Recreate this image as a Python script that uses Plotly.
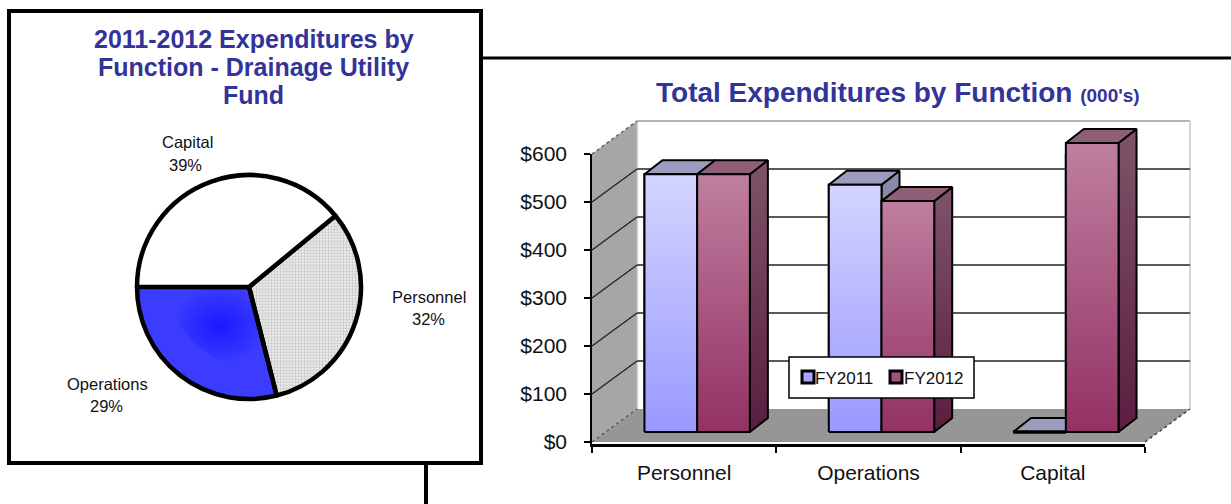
import numpy as np
import plotly.graph_objects as go

# ---- data ----
pie_labels = ["Personnel", "Operations", "Capital"]
pie_values = [32, 29, 39]
categories = ["Personnel", "Operations", "Capital"]
fy2011 = [537, 515, 0]
fy2012 = [537, 481, 602]
y_ticks = [0, 100, 200, 300, 400, 500, 600]
y_labels = ["$0", "$100", "$200", "$300", "$400", "$500", "$600"]
series_names = ["FY2011", "FY2012"]

# ---- page geometry (pixels) ----
W, H = 1231, 504
def fx(px): return px / W
def fy(px): return 1 - px / H

AX_L, AX_R, AX_T, AX_B = 592, 1145, 154, 444
ZERO_PX = 442
USD_PX = 0.48
CAT_PX = (AX_R - AX_L) / 3
px2x = lambda p: p / CAT_PX
px2v = lambda p: p / USD_PX

# scene axes: same scale as main axes, wider area for the 3-D box
SC_L, SC_R, SC_T, SC_B = 570, 1205, 100, 452
sc_xr = [-0.5 + px2x(SC_L - AX_L), -0.5 + px2x(SC_R - AX_L)]
sc_yr = [px2v(ZERO_PX - SC_B), px2v(ZERO_PX - SC_T)]

WALL_DX, WALL_DY = px2x(45), px2v(33)
BAR_DX, BAR_DV = px2x(18), px2v(14)
BAR_W = px2x(52.7)
SHIFT = px2x(13)
LIFT = px2v(10)

fig = go.Figure()

# ---- native bars on the real axes ----
xpos = [i + SHIFT for i in range(3)]
fig.add_trace(go.Bar(x=xpos, y=fy2011, base=LIFT, width=BAR_W, offset=-BAR_W, name=series_names[0],
                     marker=dict(color="#b4b4ff", line=dict(color="black", width=2)), xaxis="x", yaxis="y",
                     showlegend=False))
fig.add_trace(go.Bar(x=xpos, y=fy2012, base=LIFT, width=BAR_W, offset=0, name=series_names[1],
                     marker=dict(color="#a85080", line=dict(color="black", width=2)), xaxis="x", yaxis="y",
                     showlegend=False))

def poly(xs, ys, color=None, grad=None, line="black", lw=2, dash=None, fill=True, xa="x2", ya="y2"):
    kw = dict(x=list(xs), y=list(ys), mode="lines", xaxis=xa, yaxis=ya, hoverinfo="skip", showlegend=False,
              line=dict(color=line, width=lw, dash=dash) if lw else dict(width=0))
    if fill:
        kw["fill"] = "toself"
        if grad:
            kw["fillgradient"] = dict(type="vertical", colorscale=[[0, grad[1]], [1, grad[0]]])
            kw["fillcolor"] = grad[0]
        else:
            kw["fillcolor"] = color
    fig.add_trace(go.Scatter(**kw))

# ---- 3-D room ----
x0, x1 = -0.5, 2.5
top = y_ticks[-1]
poly([x0, x0 + WALL_DX, x0 + WALL_DX, x0, x0], [0, WALL_DY, top + WALL_DY, top, 0], color="#a6a6a6", lw=0)
poly([x0, x1, x1 + WALL_DX, x0 + WALL_DX, x0], [0, 0, WALL_DY, WALL_DY, 0], color="#969696", lw=0)
poly([x0 + WALL_DX, x1 + WALL_DX], [top + WALL_DY] * 2, fill=False, line="#b4b4b4", lw=2)
poly([x1 + WALL_DX, x1 + WALL_DX], [WALL_DY, top + WALL_DY], fill=False, line="#d4d4d4", lw=2)
poly([x0 + WALL_DX, x0 + WALL_DX], [WALL_DY, top + WALL_DY], fill=False, line="#bdbdbd", lw=1.5)
for v in y_ticks[1:-1]:
    poly([x0 + WALL_DX, x1 + WALL_DX], [v + WALL_DY] * 2, fill=False, line="#5a5a5a", lw=2)
    poly([x0, x0 + WALL_DX], [v, v + WALL_DY], fill=False, line="#222222", lw=1.3)
poly([x0, x0 + WALL_DX], [top, top + WALL_DY], fill=False, line="#555555", lw=1.3, dash="dot")
poly([x0, x0 + WALL_DX], [0, WALL_DY], fill=False, line="#555555", lw=1.3, dash="dot")
poly([x1, x1 + WALL_DX], [0, WALL_DY], fill=False, line="#444444", lw=1.5, dash="dot")

# ---- 3-D bar faces ----
STYLE = [
    dict(front=("#d4d4ff", "#9999ff"), side=("#8a8aaa", "#6f6f96"), top="#9c9cbf"),
    dict(front=("#bf7fa0", "#933163"), side=("#7e5468", "#5a1e40"), top="#915e78"),
]
def prism(xl, v, st):
    xr = xl + BAR_W
    b, t = LIFT, LIFT + v
    poly([xr, xr + BAR_DX, xr + BAR_DX, xr, xr], [b, b + BAR_DV, t + BAR_DV, t, b], grad=st["side"])
    poly([xl, xr, xr + BAR_DX, xl + BAR_DX, xl], [t, t, t + BAR_DV, t + BAR_DV, t], color=st["top"])
    if v > 0:
        poly([xl, xr, xr, xl, xl], [b, b, t, t, b], grad=st["front"])
    else:
        poly([xl, xr], [b, b], fill=False, lw=3.5)

for i in range(3):
    prism(xpos[i] - BAR_W, fy2011[i], STYLE[0])
    prism(xpos[i], fy2012[i], STYLE[1])

# ---- pie ----
PC_X, PC_Y, PR = 249, 287, 112
ROT = 50.5
pie_dom_x = [fx(PC_X - PR), fx(PC_X + PR)]
pie_dom_y = [fy(PC_Y + PR), fy(PC_Y - PR)]

def sector(start_frac, end_frac, r):
    a = np.radians(ROT + 360 * np.linspace(start_frac, end_frac, 60))
    return [0, *(r * np.sin(a)), 0], [0, *(r * np.cos(a)), 0]

total = sum(pie_values)
f0 = pie_values[0] / total
f1 = (pie_values[0] + pie_values[1]) / total
sx, sy = sector(f0, f1, 1.0)
poly(sx, sy, color="#3c3cff", lw=0, xa="x3", ya="y3")
sx, sy = sector(f0, f1, 0.7)
fig.add_trace(go.Scatter(x=sx, y=sy, mode="lines", fill="toself", xaxis="x3", yaxis="y3", hoverinfo="skip",
                         showlegend=False, line=dict(width=0),
                         fillgradient=dict(type="radial",
                                           colorscale=[[0, "rgba(26,26,255,1)"], [1, "rgba(26,26,255,0)"]])))

fig.add_trace(go.Pie(labels=pie_labels, values=pie_values, sort=False, direction="clockwise", rotation=ROT,
                     domain=dict(x=pie_dom_x, y=pie_dom_y), textinfo="none", hoverinfo="label+percent",
                     showlegend=False,
                     marker=dict(colors=["#e6e6e6", "rgba(0,0,0,0)", "white"],
                                 line=dict(color="black", width=4.5),
                                 pattern=dict(shape=[".", "", ""], fgcolor="#c8c8c8", bgcolor="#efefef",
                                              size=3, solidity=0.45))))

# ---- frames ----
shapes = []
def seg(a, b, c, d, lw=4, color="black"):
    shapes.append(dict(type="line", xref="paper", yref="paper", x0=fx(a), y0=fy(b), x1=fx(c), y1=fy(d),
                       line=dict(color=color, width=lw)))
seg(481, 58, 1231, 58, 3)
seg(426, 463, 426, 504, 4)
shapes.append(dict(type="rect", xref="paper", yref="paper", x0=fx(9), y0=fy(11), x1=fx(481), y1=fy(463),
                   line=dict(color="black", width=4)))

# ---- hand-placed key ----
shapes.append(dict(type="rect", xref="paper", yref="paper", x0=fx(789), y0=fy(357), x1=fx(974), y1=fy(398),
                   fillcolor="white", line=dict(color="black", width=1.5)))
for a, c in [(802, "#a6a6ff"), (890, "#a85080")]:
    shapes.append(dict(type="rect", xref="paper", yref="paper", x0=fx(a), y0=fy(371), x1=fx(a + 12), y1=fy(383),
                       fillcolor=c, line=dict(color="black", width=3)))

# ---- text ----
NAVY = "#333399"
BLACK = "#111111"
ann = []
def txt(s, x, y, size, color=BLACK, family="Liberation Sans", xanchor="center", bold=False):
    ann.append(dict(text=f"<b>{s}</b>" if bold else s, x=fx(x), y=fy(y), xref="paper", yref="paper", xanchor=xanchor,
                    yanchor="middle", showarrow=False, font=dict(family=family, size=size, color=color)))

txt("2011-2012 Expenditures by", 253.5, 39, 25, NAVY, bold=True)
txt("Function - Drainage Utility", 253, 67, 25, NAVY, bold=True)
txt("Fund", 253, 95, 25, NAVY, bold=True)
txt("Total Expenditures by Function <span style='font-size:19px'>(000's)</span>", 897.5, 92, 28, NAVY, bold=True)

label_pos = {"Capital": (187, 142, 185, 165), "Personnel": (429, 297, 428, 319), "Operations": (107, 384, 106, 406)}
for name, val in zip(pie_labels, pie_values):
    a, b, c, d = label_pos[name]
    txt(name, a, b, 16.5)
    txt(f"{val}%", c, d, 16.5)

txt(series_names[0], 813, 378, 17, xanchor="left")
txt(series_names[1], 902, 378, 17, xanchor="left")

hidden = dict(visible=False, fixedrange=True)
fig.update_layout(
    width=W, height=H, margin=dict(l=0, r=0, t=0, b=0, autoexpand=False), paper_bgcolor="white",
    plot_bgcolor="rgba(0,0,0,0)",
    barmode="overlay", shapes=shapes, annotations=ann, showlegend=False,
    font=dict(family="Liberation Sans", color=BLACK),
    xaxis=dict(domain=[fx(AX_L), fx(AX_R)], range=[-0.5, 2.5], tickmode="array", tickvals=[0, 1, 2], automargin=False,
               ticktext=categories, ticks="", showgrid=False, zeroline=False, showline=True, linecolor="black",
               linewidth=3, tickfont=dict(size=21, color=BLACK), ticklabelstandoff=8, fixedrange=True,
               minor=dict(tickmode="array", tickvals=[-0.5, 0.5, 1.5, 2.5], ticks="outside", ticklen=6,
                          tickwidth=1.5, tickcolor="black", showgrid=False), anchor="y"),
    yaxis=dict(domain=[fy(AX_B), fy(AX_T)], range=[px2v(ZERO_PX - AX_B), px2v(ZERO_PX - AX_T)], tickmode="array",
               tickvals=y_ticks, ticktext=y_labels, ticks="outside", ticklen=6, tickwidth=1.5, tickcolor="black",
               showgrid=False, zeroline=False, showline=True, linecolor="black", linewidth=1.5, automargin=False,
               tickfont=dict(size=21, color=BLACK), ticklabelstandoff=13, fixedrange=True, anchor="x"),
    xaxis2=dict(domain=[fx(SC_L), fx(SC_R)], range=sc_xr, anchor="y2", automargin=False, **hidden),
    yaxis2=dict(domain=[fy(SC_B), fy(SC_T)], range=sc_yr, anchor="x2", automargin=False, **hidden),
    xaxis3=dict(domain=pie_dom_x, range=[-1, 1], anchor="y3", automargin=False, **hidden),
    yaxis3=dict(domain=pie_dom_y, range=[-1, 1], anchor="x3", automargin=False, **hidden),
)

fig.write_html("out.html", config=dict(displayModeBar=False),
               post_script="document.body.style.margin='0';document.body.style.overflow='hidden';")
